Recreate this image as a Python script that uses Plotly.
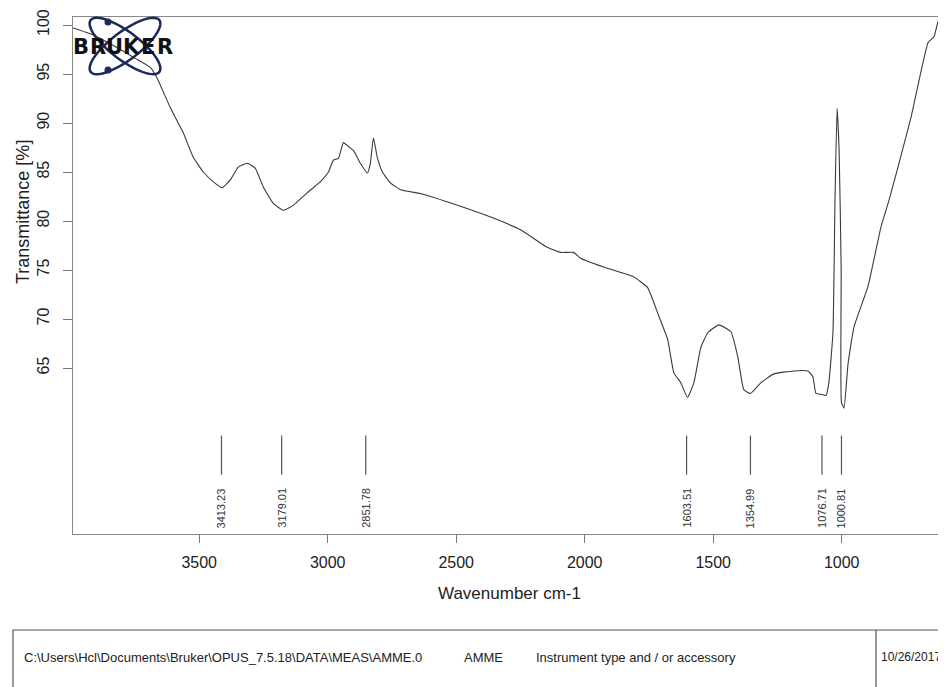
import numpy as np
import plotly.graph_objects as go

# Spectrum
wavenumber = [3991, 3913, 3827, 3749, 3691, 3664, 3613, 3562, 3523, 3484, 3445, 3410,
              3379, 3348, 3313, 3282, 3251, 3212, 3173, 3134, 3079, 3029, 2997, 2978,
              2958, 2939, 2919, 2900, 2873, 2845, 2834, 2822, 2807, 2787, 2756, 2717,
              2639, 2495, 2366, 2249, 2152, 2094, 2043, 2016, 1926, 1809, 1755, 1716,
              1677, 1653, 1626, 1600, 1575, 1548, 1521, 1478, 1431, 1404, 1381, 1355,
              1314, 1264, 1186, 1131, 1112, 1100, 1077, 1061, 1050, 1034, 1026, 1018,
              1010, 1002, 1001, 991, 975, 952, 898, 847, 816, 781, 730, 664, 641, 621,
              601, 590]
transmittance = [99.7, 99.0, 97.8, 96.6, 95.7, 94.6, 91.6, 89.0, 86.5, 85.0, 84.0, 83.4,
                 84.2, 85.5, 85.9, 85.4, 83.5, 81.8, 81.1, 81.6, 82.9, 84.0, 85.0, 86.2,
                 86.4, 88.0, 87.6, 87.2, 85.9, 84.9, 85.9, 88.5, 86.5, 85.0, 83.9, 83.2,
                 82.8, 81.6, 80.4, 79.1, 77.4, 76.8, 76.8, 76.2, 75.3, 74.3, 73.2, 70.6,
                 67.9, 64.5, 63.5, 62.0, 63.5, 67.1, 68.6, 69.4, 68.7, 66.1, 62.8, 62.4,
                 63.5, 64.4, 64.7, 64.7, 64.1, 62.4, 62.3, 62.2, 63.5, 68.6, 82.1, 91.5,
                 87.2, 75.0, 61.5, 60.9, 65.5, 69.2, 73.3, 79.4, 82.1, 85.5, 90.6, 98.2,
                 98.8, 100.7, 99.6, 99.8]

peak_positions = [3413.23, 3179.01, 2851.78, 1603.51, 1354.99, 1076.71, 1000.81]
peak_labels = ["3413.23", "3179.01", "2851.78", "1603.51", "1354.99", "1076.71", "1000.81"]

y_ticks = [65, 70, 75, 80, 85, 90, 95, 100]
x_ticks = [3500, 3000, 2500, 2000, 1500, 1000]

footer_texts = ["C:\\Users\\Hcl\\Documents\\Bruker\\OPUS_7.5.18\\DATA\\MEAS\\AMME.0",
                "AMME", "Instrument type and / or accessory", "10/26/2017"]

# page offsets: the page body adds ~8px around the figure
OFF = 8
W, H = 946 - OFF, 687 - OFF
PL, PT, PR, PB = 73, 17, 945, 534          # plot box in page pixels
L, T = PL - OFF, PT - OFF
R = W - (PR - OFF)
B = H - (PB - OFF)
PW, PH = PR - PL, PB - PT


def px(x):
    return (x - PL) / PW


def py(y):
    return (PB - y) / PH


fig = go.Figure()
fig.add_trace(go.Scatter(x=wavenumber, y=transmittance, mode="lines",
                         line=dict(color="#3a3a3a", width=1.1, shape="spline",
                                   smoothing=0.4),
                         hoverinfo="skip", showlegend=False))

shapes = []
annotations = []
for pos, lab in zip(peak_positions, peak_labels):
    shapes.append(dict(type="line", xref="x", yref="y", x0=pos, x1=pos, y0=54.1, y1=58.1,
                       line=dict(color="#555555", width=1.2)))
    annotations.append(dict(x=pos, y=py(530), xref="x", yref="paper", text=lab,
                            textangle=-90, showarrow=False, yanchor="bottom",
                            xanchor="center",
                            font=dict(family="Liberation Sans, Arial", size=11, color="#333")))

# axis titles
annotations.append(dict(x=px(509), y=py(593), xref="paper", yref="paper",
                        text="Wavenumber cm-1", showarrow=False, xanchor="center",
                        yanchor="middle",
                        font=dict(family="Liberation Sans, Arial", size=17, color="#222")))
annotations.append(dict(x=px(23), y=py(212), xref="paper", yref="paper",
                        text="Transmittance [%]", showarrow=False, textangle=-90,
                        xanchor="center", yanchor="middle",
                        font=dict(family="Liberation Sans, Arial", size=18, color="#222")))

# footer box
shapes.append(dict(type="rect", xref="paper", yref="paper", x0=px(13), x1=px(960),
                   y0=py(700), y1=py(630), line=dict(color="#555", width=1.2)))
shapes.append(dict(type="line", xref="paper", yref="paper", x0=px(876), x1=px(876),
                   y0=py(700), y1=py(630), line=dict(color="#555", width=1.2)))
for xt, txt, fs in zip([22, 462, 534, 879], footer_texts, [13, 13, 13, 12]):
    annotations.append(dict(x=px(xt), y=py(657), xref="paper", yref="paper", text=txt,
                            showarrow=False, xanchor="left", yanchor="middle",
                            font=dict(family="Liberation Sans Narrow, Liberation Sans, Arial",
                                      size=fs, color="#222")))

# Bruker logo: two crossed ellipses, dots, letters
cx, cy = 125, 46
t = np.linspace(0, 2 * np.pi, 80)
for ang in (np.deg2rad(37), np.deg2rad(-37)):
    a, b = 43, 14
    ex = cx + a * np.cos(t) * np.cos(ang) - b * np.sin(t) * np.sin(ang)
    ey = cy + a * np.cos(t) * np.sin(ang) + b * np.sin(t) * np.cos(ang)
    path = "M " + " L ".join(f"{px(xx):.5f},{py(yy):.5f}" for xx, yy in zip(ex, ey)) + " Z"
    shapes.append(dict(type="path", xref="paper", yref="paper", path=path,
                       line=dict(color="#1c2a5a", width=2.5)))
for dx, dy in ((108, 22), (108, 70)):
    shapes.append(dict(type="circle", xref="paper", yref="paper",
                       x0=px(dx - 3.5), x1=px(dx + 3.5), y0=py(dy + 3.5), y1=py(dy - 3.5),
                       fillcolor="#1c2a5a", line=dict(width=0)))
for i, ch in enumerate("BRUKER"):
    annotations.append(dict(x=px(81 + i * 16.8), y=py(47), xref="paper", yref="paper",
                            text=f"<b>{ch}</b>", showarrow=False, xanchor="center",
                            yanchor="middle",
                            font=dict(family="DejaVu Sans, Arial", size=21, color="#111")))

fig.update_layout(
    width=W, height=H,
    margin=dict(l=L, r=R, t=T, b=B, pad=0, autoexpand=False),
    paper_bgcolor="white", plot_bgcolor="white",
    font=dict(family="Liberation Sans, Arial", size=16, color="#222"),
    shapes=shapes, annotations=annotations,
    xaxis=dict(range=[3991, 598], tickvals=x_ticks, ticks="outside", ticklen=8,
               tickcolor="#777", showline=True, linecolor="#888", linewidth=1.2,
               mirror=True, showgrid=False, zeroline=False, automargin=False,
               ticklabelstandoff=6, tickfont=dict(size=16)),
    yaxis=dict(range=[48.06, 100.82], tickvals=y_ticks, ticks="outside", ticklen=9,
               tickcolor="#777", showline=True, linecolor="#888", linewidth=1.2,
               mirror=True, showgrid=False, zeroline=False, tickangle=-90,
               automargin=False, ticklabelstandoff=8, tickfont=dict(size=16)),
)

fig.write_html("out.html")
